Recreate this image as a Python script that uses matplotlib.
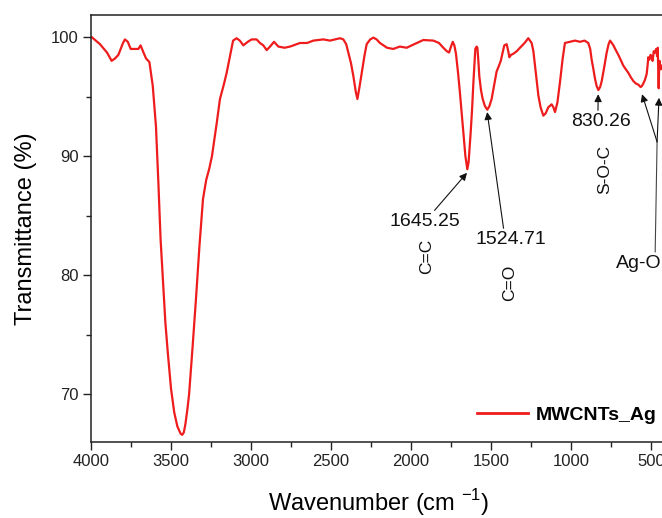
import numpy as np
import matplotlib
matplotlib.use("Agg")
import matplotlib.pyplot as plt
from matplotlib.ticker import MultipleLocator

plt.rcParams['font.family'] = ['Liberation Sans', 'DejaVu Sans']
plt.rcParams['mathtext.fontset'] = 'custom'
plt.rcParams['mathtext.rm'] = 'Liberation Sans'

# wavenumber (cm-1) and transmittance (%)
wavenumber = [
    4000, 3996, 3944, 3900, 3871, 3850, 3829, 3800, 3788, 3770, 3752, 3720, 3704,
    3690, 3675, 3656, 3635, 3614, 3594, 3579, 3565, 3550, 3535, 3520, 3500, 3480,
    3460, 3440, 3430, 3420, 3410, 3398, 3387, 3365, 3344, 3322, 3300, 3280, 3260,
    3244, 3230, 3214, 3194, 3170, 3152, 3130, 3112, 3090, 3070, 3048, 3020, 2996,
    2965, 2944, 2923, 2902, 2881, 2856, 2829, 2790, 2756, 2694, 2650, 2610, 2548,
    2506, 2444, 2423, 2405, 2392, 2375, 2360, 2345, 2335, 2322, 2308, 2290, 2277,
    2255, 2235, 2215, 2194, 2150, 2111, 2070, 2027, 1980, 1923, 1860, 1825, 1798,
    1775, 1762, 1750, 1739, 1729, 1719, 1706, 1694, 1683, 1673, 1660, 1648, 1640,
    1627, 1618, 1610, 1598, 1590, 1585, 1578, 1573, 1562, 1552, 1538, 1523, 1510,
    1496, 1480, 1465, 1450, 1439, 1417, 1402, 1392, 1385, 1375, 1360, 1340, 1319,
    1290, 1267, 1246, 1235, 1225, 1214, 1204, 1190, 1173, 1158, 1142, 1121, 1110,
    1100, 1085, 1069, 1052, 1038, 1006, 975, 944, 915, 892, 880, 871, 860, 850,
    840, 829, 818, 808, 792, 777, 765, 756, 745, 735, 720, 704, 690, 673, 658, 642,
    625, 610, 595, 579, 565, 556, 548, 538, 527, 520, 517, 510, 503, 496, 490, 483,
    475, 468, 462, 458, 455, 452, 449, 446, 440, 433, 425,
]
transmittance = [
    100.0, 100.0, 99.4, 98.7, 98.0, 98.2, 98.5, 99.5, 99.8, 99.6, 99.0, 99.0, 99.0,
    99.3, 98.8, 98.2, 97.9, 95.9, 92.5, 87.8, 83.0, 79.5, 76.0, 73.5, 70.5, 68.5,
    67.3, 66.7, 66.6, 66.8, 67.5, 68.7, 70.0, 74.0, 78.0, 82.5, 86.4, 88.0, 89.0,
    90.0, 91.3, 92.8, 94.8, 96.0, 97.0, 98.5, 99.7, 99.9, 99.7, 99.3, 99.6, 99.8,
    99.8, 99.5, 99.3, 98.9, 99.2, 99.6, 99.2, 99.1, 99.2, 99.5, 99.5, 99.7, 99.8,
    99.7, 99.9, 99.8, 99.4, 98.7, 97.8, 96.7, 95.4, 94.8, 95.8, 97.0, 98.5, 99.4,
    99.8, 99.95, 99.8, 99.5, 99.1, 99.0, 99.2, 99.1, 99.4, 99.75, 99.7, 99.5, 99.1,
    98.8, 98.7, 99.2, 99.6, 99.3, 98.6, 97.0, 95.3, 93.6, 92.0, 90.0, 88.9, 89.5,
    92.0, 94.0, 96.2, 99.0, 99.2, 99.1, 97.8, 96.7, 95.5, 94.8, 94.2, 93.9, 94.2,
    94.8, 96.0, 97.1, 97.6, 98.0, 99.3, 99.4, 98.8, 98.3, 98.5, 98.6, 98.8, 99.1,
    99.5, 99.9, 99.5, 98.8, 97.6, 96.3, 95.1, 94.1, 93.4, 93.6, 94.1, 94.35, 94.1,
    93.7, 94.5, 96.2, 98.2, 99.5, 99.6, 99.7, 99.6, 99.7, 99.5, 99.0, 98.1, 97.3, 96.5,
    95.9, 95.55, 95.8, 96.3, 97.5, 98.7, 99.4, 99.7, 99.5, 99.3, 98.9, 98.5, 98.1, 97.6, 97.3, 97.0,
    96.6, 96.3, 96.1, 96.0, 95.8, 95.9, 96.1, 96.4, 96.9, 97.8, 98.3, 98.1, 98.5, 98.4, 98.0, 98.8,
    98.7, 99.0, 98.4, 99.1, 97.4, 95.7, 97.5, 98.0, 97.3, 97.6, 97.2,
]

series_name = "MWCNTs_Ag"

# peak labels: (text, text position), arrow target
peak_labels = ["1645.25", "1524.71", "830.26"]
peak_text_xy = [(1912, 84.5), (1375, 83.0), (813, 92.9)]
peak_arrow_xy = [(1650, 88.6), (1524, 93.7), (830, 95.2)]
peak_relpos = [(0.6, 1.0), (0.4, 1.0), (0.45, 1.0)]

bond_labels = ["C=C", "C=O", "S-O-C"]
bond_xy = [(1900, 81.6), (1381, 79.4), (788, 88.9)]

ago_text_xy = (574, 81.0)
ago_joint = (462, 91.2)
ago_targets = [(556, 95.2), (450, 94.9)]


def main():
    fig = plt.figure(figsize=(6.62, 5.18), dpi=100)
    ax = fig.add_axes([91 / 662, 76 / 518, 576 / 662, 427 / 518])

    ax.plot(wavenumber, transmittance, color='#ee1c1c', lw=1.6, label=series_name)

    ax.set_xlim(4000, 400)
    ax.set_ylim(66.0, 101.85)
    ax.xaxis.set_major_locator(MultipleLocator(500))
    ax.xaxis.set_minor_locator(MultipleLocator(250))
    ax.yaxis.set_major_locator(MultipleLocator(10))
    ax.yaxis.set_minor_locator(MultipleLocator(5))
    ax.tick_params(which='major', direction='out', length=6, width=1.0,
                   labelsize=12, colors='#222222', pad=3)
    ax.tick_params(which='minor', direction='out', length=3.5, width=1.0, colors='#222222')
    ax.spines['right'].set_visible(False)
    for s in ['left', 'bottom', 'top']:
        ax.spines[s].set_linewidth(1.1)
        ax.spines[s].set_color('#222222')

    ax.set_xlabel(r"Wavenumber (cm $^{-1}$)", fontsize=17, labelpad=13)
    ax.set_ylabel("Transmittance (%)", fontsize=17, labelpad=10)

    arrow = dict(arrowstyle='-|>', color='#111111', lw=0.8, mutation_scale=11,
                 shrinkA=0, shrinkB=0)
    for lab, txy, axy, rp in zip(peak_labels, peak_text_xy, peak_arrow_xy, peak_relpos):
        a = dict(arrow)
        a['relpos'] = rp
        ax.annotate(lab, xy=axy, xytext=txy, ha='center', va='center',
                    fontsize=14, color='#111111', arrowprops=a)

    for lab, xy in zip(bond_labels, bond_xy):
        ax.text(xy[0], xy[1], lab, rotation=90, ha='center', va='center',
                fontsize=12.5, color='#111111')

    ax.annotate("Ag-O", xy=ago_joint, xytext=ago_text_xy, ha='center', va='center',
                fontsize=14, color='#111111',
                arrowprops=dict(arrowstyle='-', color='#444444', lw=0.8,
                                relpos=(0.85, 1.0), shrinkA=0, shrinkB=0))
    for t in ago_targets:
        ax.annotate("", xy=t, xytext=ago_joint, arrowprops=arrow)

    leg = ax.legend(loc='center left', bbox_to_anchor=((477 - 91) / 576, (442 - 415) / 427),
                    frameon=False, borderpad=0, borderaxespad=0, handlelength=2.6,
                    handletextpad=0.4, prop={'weight': 'bold', 'size': 14})
    leg.get_lines()[0].set_linewidth(2.0)

    plt.savefig("out.png", dpi=100)


if __name__ == "__main__":
    main()
